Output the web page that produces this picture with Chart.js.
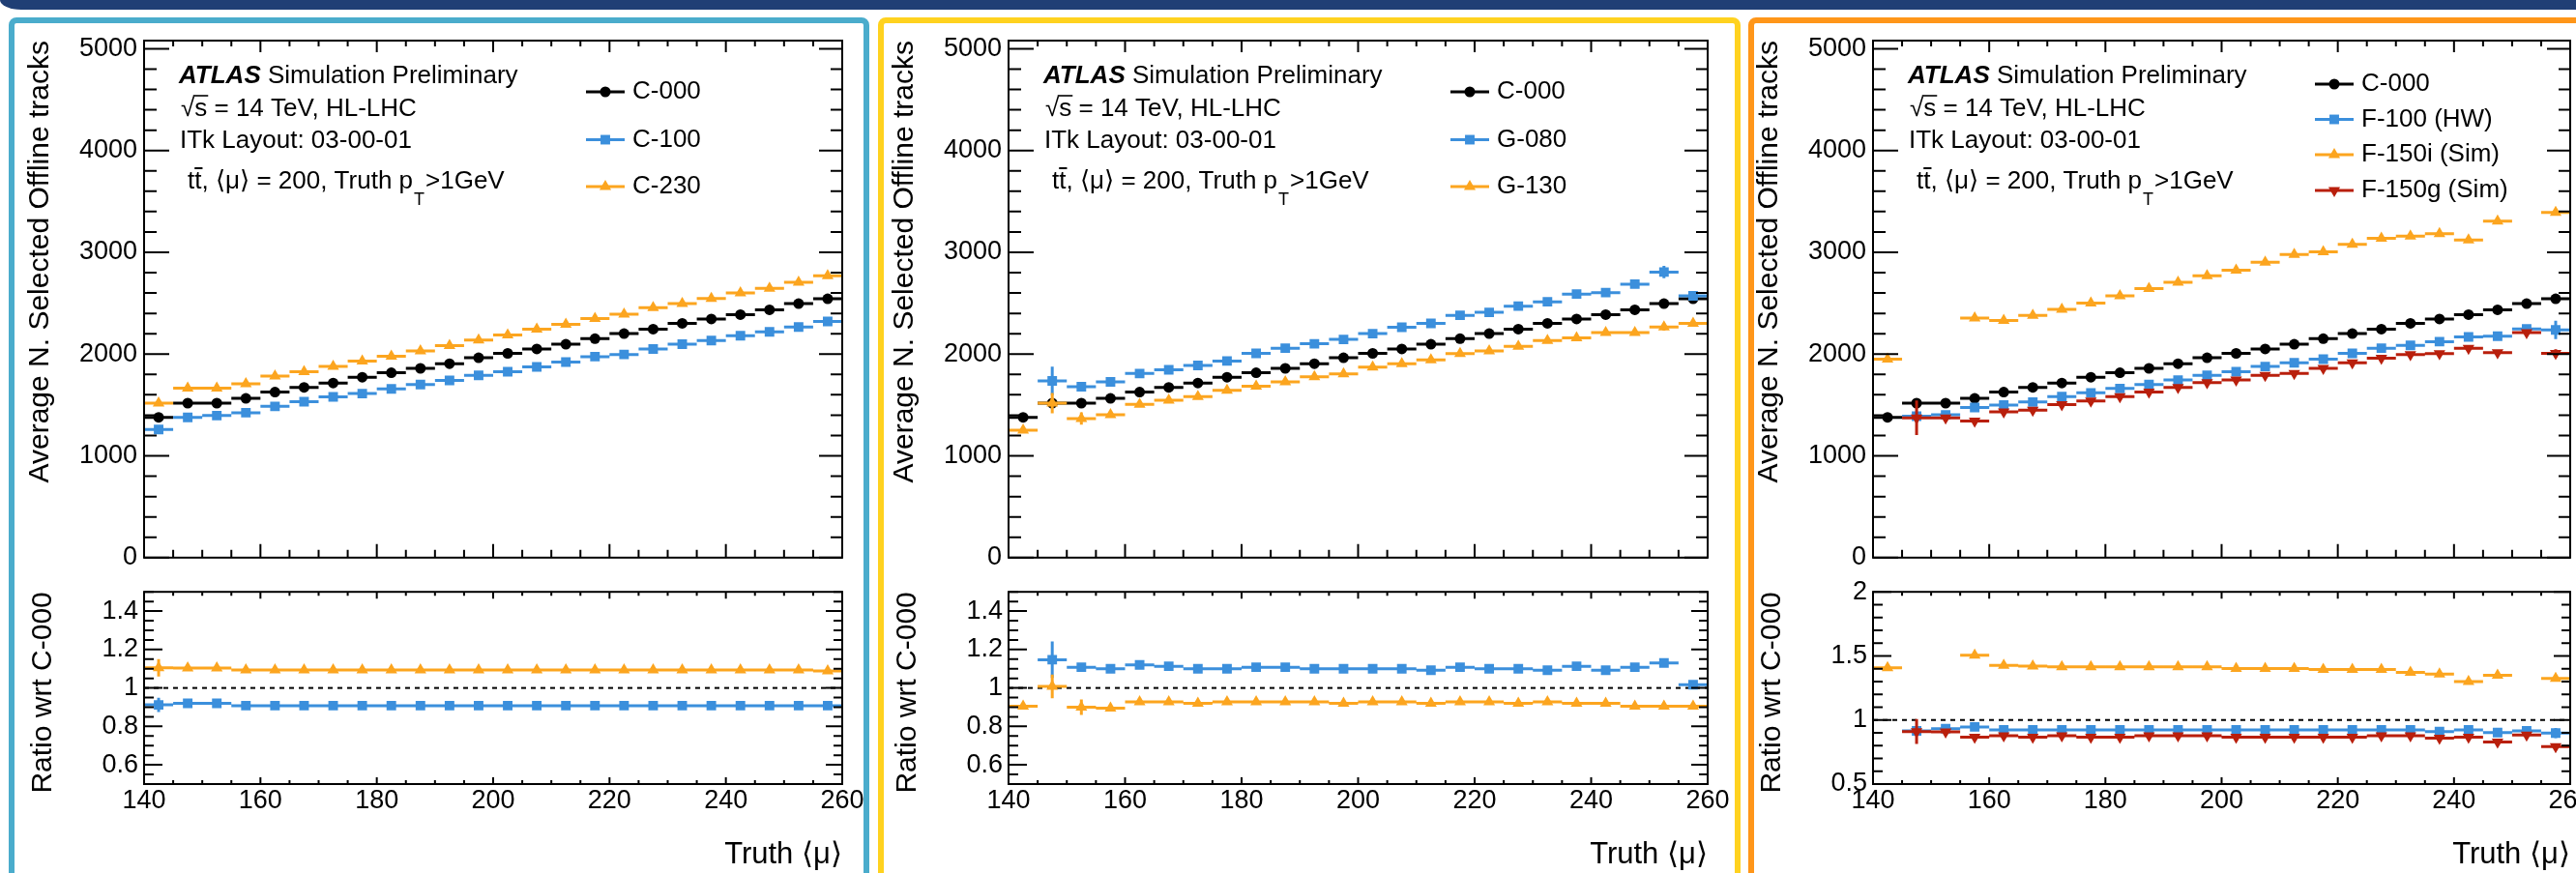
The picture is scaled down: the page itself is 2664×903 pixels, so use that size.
<!DOCTYPE html>
<html><head><meta charset="utf-8">
<script src="https://cdn.jsdelivr.net/npm/chart.js@4/dist/chart.umd.min.js"></script>
<style>
html,body{margin:0;padding:0;background:#fff}
body{width:2664px;height:903px;overflow:hidden;position:relative}
.bar{position:absolute;left:0;top:0;width:2664px;height:10px;background:#203f75;border-bottom-left-radius:22px 10px}
.panel{position:absolute;top:18px;height:920px;border:6px solid;border-radius:8px;box-sizing:border-box}
canvas{position:absolute}
</style></head>
<body>
<div class="bar"></div>
<div class="panel" style="left:9px;width:890px;border-color:#4aaccc"></div>
<div class="panel" style="left:908px;width:892px;border-color:#ffd21f"></div>
<div class="panel" style="left:1808px;width:900px;border-color:#ff9619"></div>
<script>
// ---------------- data ----------------
const BIN_EDGES = [140,145,150,155,160,165,170,175,180,185,190,195,200,205,210,215,220,225,230,235,240,245,250,255,260];
const X_TICKS = [140,160,180,200,220,240,260];
const Y_TICKS_MAIN = [0,1000,2000,3000,4000,5000];
const Y_TICKS_RATIO = [0.6,0.8,1,1.2,1.4];
const Y_TICKS_RATIO_F = [0.5,1,1.5,2];

const C000 = [1378,1518,1518,1565,1626,1673,1716,1773,1817,1860,1906,1964,2007,2050,2097,2151,2201,2245,2302,2345,2388,2435,2496,2543];

const C100 = [1259,1378,1396,1424,1486,1532,1579,1612,1658,1701,1741,1791,1827,1874,1921,1975,1996,2050,2097,2133,2180,2219,2266,2320];
const C230 = [1518,1665,1665,1709,1784,1827,1878,1932,1978,2032,2083,2137,2187,2245,2291,2349,2392,2457,2496,2547,2601,2647,2705,2770];
const C100_R = [0.912,0.92,0.92,0.908,0.908,0.908,0.908,0.908,0.908,0.908,0.908,0.908,0.908,0.908,0.908,0.908,0.908,0.908,0.908,0.908,0.908,0.908,0.908,0.908];
const C100_R_ERR = [0.037,0,0,0,0,0,0,0,0,0,0,0,0,0,0,0,0,0,0,0,0,0,0,0];
const C230_R = [1.105,1.103,1.103,1.093,1.093,1.093,1.093,1.093,1.093,1.093,1.093,1.093,1.093,1.093,1.093,1.093,1.093,1.093,1.093,1.093,1.093,1.093,1.093,1.088];
const C230_R_ERR = [0.045,0,0,0,0,0,0,0,0,0,0,0,0,0,0,0,0,0,0,0,0,0,0,0];

const G080 = [null,1737,1680,1727,1809,1845,1888,1932,2007,2058,2101,2144,2201,2263,2302,2381,2410,2471,2514,2590,2604,2687,2806,2572];
const G080_ERR = [0,140,0,0,0,0,0,0,0,0,0,0,0,0,0,0,0,0,0,0,40,0,60,0];
const G130 = [1252,1518,1367,1403,1507,1547,1583,1644,1683,1727,1777,1806,1871,1906,1942,2004,2032,2076,2133,2158,2212,2212,2266,2302];
const G130_ERR = [0,100,60,0,0,0,0,0,0,0,0,0,0,0,0,0,0,0,0,0,0,0,35,0];
const G080_R = [null,1.147,1.108,1.1,1.12,1.113,1.1,1.1,1.108,1.108,1.1,1.1,1.1,1.1,1.092,1.108,1.1,1.1,1.092,1.113,1.092,1.108,1.13,1.017];
const G080_R_ERR = [0,0.095,0,0,0,0,0,0,0,0,0,0,0,0,0,0,0,0,0,0,0,0,0.02,0];
const G130_R = [0.905,1.008,0.9,0.895,0.928,0.928,0.92,0.928,0.928,0.928,0.928,0.92,0.928,0.928,0.92,0.928,0.928,0.92,0.928,0.92,0.92,0.905,0.905,0.905];
const G130_R_ERR = [0,0.062,0.04,0,0,0,0,0,0,0,0,0,0,0,0,0,0,0,0,0,0,0,0,0];

const F100 = [null,1390,1403,1475,1500,1529,1583,1619,1662,1701,1745,1791,1827,1878,1914,1950,2007,2058,2086,2122,2169,2176,2248,2237];
const F100_ERR = [0,0,0,0,0,0,0,0,0,0,0,0,0,0,0,0,0,0,0,0,0,0,0,90];
const F150I = [1950,null,null,2353,2331,2381,2439,2500,2572,2644,2705,2770,2824,2903,2978,3004,3079,3137,3158,3183,3122,3306,null,3392];
const F150G = [null,1374,1374,1342,1432,1450,1504,1540,1583,1626,1673,1719,1745,1791,1809,1860,1914,1960,1996,2004,2058,2014,2212,2007];
const F150G_ERR = [0,170,0,0,0,0,0,0,0,0,0,0,0,0,0,0,0,0,0,0,0,0,0,40];
const F100_R = [null,0.915,0.932,0.946,0.922,0.922,0.922,0.922,0.922,0.922,0.922,0.922,0.922,0.922,0.922,0.922,0.922,0.922,0.922,0.91,0.922,0.902,0.915,0.898];
const F100_R_ERR = [0,0,0,0,0,0,0,0,0,0,0,0,0,0,0,0,0,0,0,0,0,0,0,0.04];
const F150I_R = [1.407,null,null,1.505,1.427,1.42,1.415,1.415,1.415,1.415,1.415,1.415,1.402,1.402,1.402,1.395,1.395,1.395,1.371,1.359,1.30,1.349,null,1.324];
const F150G_R = [null,0.91,0.907,0.866,0.878,0.866,0.878,0.866,0.866,0.878,0.878,0.878,0.866,0.866,0.866,0.866,0.866,0.878,0.878,0.859,0.866,0.829,0.883,0.793];
const F150G_R_ERR = [0,0.097,0,0,0,0,0,0,0,0,0,0,0,0,0,0,0,0,0,0,0,0,0,0];

// ---------------- styles ----------------
const FAM = "'Liberation Sans', 'DejaVu Sans', Arial, sans-serif";
Chart.defaults.font.family = FAM;
Chart.defaults.color = '#000';
const STY = {
  black:  {color:'#000000', style:'circle',   r:5.5, rot:0},
  blue:   {color:'#3b8fdc', style:'rect',     r:7,   rot:0},
  orange: {color:'#fca51f', style:'triangle', r:7,   rot:0},
  red:    {color:'#b91f0c', style:'triangle', r:7,   rot:180}
};
const font = (size, weight, style) => `${style||'normal'} ${weight||'normal'} ${size}px ${FAM}`;

function histSets(values, errs, sty, prio) {
  const steps = [], bars = [], pts = [];
  values.forEach((v, i) => {
    if (v === null) return;
    const lo = BIN_EDGES[i], hi = BIN_EDGES[i + 1], c = (lo + hi) / 2;
    steps.push({x: lo, y: v}, {x: hi, y: v}, {x: hi, y: null});
    const e = errs ? errs[i] : 0;
    if (e) bars.push({x: c, y: v - e}, {x: c, y: v + e}, {x: c, y: null});
    pts.push({x: c, y: v});
  });
  const common = {type:'line', pointRadius:0, pointHoverRadius:0, borderColor:sty.color, borderWidth:3, spanGaps:false, fill:false};
  return [
    Object.assign({}, common, {data: steps, order: -(prio * 3)}),
    Object.assign({}, common, {data: bars, order: -(prio * 3 + 1)}),
    {type:'line', data: pts, showLine:false, pointStyle:sty.style, pointRadius:sty.r, pointHoverRadius:sty.r,
     pointRotation:sty.rot, pointBackgroundColor:sty.color, pointBorderColor:sty.color, pointBorderWidth:0, order: -(prio * 3 + 2)}
  ];
}

function range(from, to, step, skipEvery) {
  const out = [];
  for (let k = Math.round(from / step); k <= Math.round(to / step); k++) {
    if (skipEvery && k % skipEvery === 0) continue;
    out.push(+(k * step).toFixed(4));
  }
  return out;
}

function frameTicks(o) {
  return {id:'frameTicks', afterDatasetsDraw(chart) {
    const {ctx, chartArea:a, scales:{x, y}} = chart;
    ctx.save();
    ctx.strokeStyle = '#000'; ctx.lineWidth = 2; ctx.setLineDash([]);
    ctx.beginPath();
    const xt = (list, lb, lt) => list.forEach(v => { const p = x.getPixelForValue(v);
      ctx.moveTo(p, a.bottom); ctx.lineTo(p, a.bottom - lb); ctx.moveTo(p, a.top); ctx.lineTo(p, a.top + lt); });
    const yt = (list, ll, lr) => list.forEach(v => { const p = y.getPixelForValue(v);
      ctx.moveTo(a.left, p); ctx.lineTo(a.left + ll, p); ctx.moveTo(a.right, p); ctx.lineTo(a.right - lr, p); });
    xt(o.xMaj, o.xl[0], o.xl[2]); xt(o.xMin, o.xl[1], o.xl[3]);
    yt(o.yMaj, o.yl[0], o.yl[2]); yt(o.yMin, o.yl[1], o.yl[3]);
    ctx.stroke();
    ctx.strokeRect(a.left, a.top, a.right - a.left, a.bottom - a.top);
    ctx.restore();
  }};
}

function annot(legend, legendY) {
  return {id:'annot', afterDraw(chart) {
    const ctx = chart.ctx, L = chart.chartArea.left;
    ctx.save();
    ctx.fillStyle = '#000'; ctx.strokeStyle = '#000'; ctx.textBaseline = 'middle'; ctx.textAlign = 'left';
    // line 1
    let x = L + 36, y = 78.5;
    ctx.font = font(26, 'bold', 'italic'); ctx.fillText('ATLAS', x, y);
    x += ctx.measureText('ATLAS').width;
    ctx.font = font(26); ctx.fillText(' Simulation Preliminary', x, y);
    // line 2
    x = L + 38; y = 113;
    ctx.fillText('\u221A', x, y);
    const rw = ctx.measureText('\u221A').width;
    ctx.fillText('s = 14 TeV, HL-LHC', x + rw, y);
    const sw = ctx.measureText('s').width;
    ctx.lineWidth = 1.6; ctx.beginPath(); ctx.moveTo(x + rw - 1.5, y - 14); ctx.lineTo(x + rw + sw + 1, y - 14); ctx.stroke();
    // line 3
    ctx.fillText('ITk Layout: 03-00-01', L + 37, 145.5);
    // line 4
    x = L + 45; y = 188;
    const tw = ctx.measureText('t').width;
    ctx.fillText('tt', x, y);
    ctx.lineWidth = 2; ctx.beginPath(); ctx.moveTo(x + tw, y - 14); ctx.lineTo(x + 2 * tw + 1, y - 14); ctx.stroke();
    x += 2 * tw;
    const part = ', \u27E8\u03BC\u27E9 = 200, Truth p';
    ctx.fillText(part, x, y); x += ctx.measureText(part).width;
    ctx.font = font(18); ctx.fillText('T', x + 1, y + 19); x += ctx.measureText('T').width + 2;
    ctx.font = font(26); ctx.fillText('>1GeV', x, y);
    // legend
    legend.forEach((e, k) => {
      const ly = legendY[k];
      ctx.strokeStyle = e.sty.color; ctx.lineWidth = 3;
      ctx.beginPath(); ctx.moveTo(L + 457, ly); ctx.lineTo(L + 497, ly); ctx.stroke();
      ctx.fillStyle = e.sty.color;
      Chart.helpers.drawPoint(ctx, {pointStyle:e.sty.style, rotation:e.sty.rot, radius:e.sty.r, borderWidth:0}, L + 477, ly);
      ctx.fillStyle = '#000'; ctx.font = font(26);
      ctx.fillText(e.label, L + 505, ly);
    });
    ctx.restore();
  }};
}

function addCanvas(left, top, w, h) {
  const c = document.createElement('canvas');
  c.width = w; c.height = h;
  c.style.left = left + 'px'; c.style.top = top + 'px';
  c.style.width = w + 'px'; c.style.height = h + 'px';
  document.body.appendChild(c);
  return c;
}

const PANELS = [
  {L:149, R:871,
   series:[{v:C000, e:null, sty:STY.black, label:'C-000'}, {v:C100, e:null, sty:STY.blue, label:'C-100'}, {v:C230, e:null, sty:STY.orange, label:'C-230'}],
   ratio:[{v:C100_R, e:C100_R_ERR, sty:STY.blue}, {v:C230_R, e:C230_R_ERR, sty:STY.orange}],
   rmin:0.5, rmax:1.5, rticks:Y_TICKS_RATIO, rminor:range(0.5, 1.5, 0.05, 4), legendY:[95, 144.5, 193]},
  {L:1043, R:1766,
   series:[{v:C000, e:null, sty:STY.black, label:'C-000'}, {v:G080, e:G080_ERR, sty:STY.blue, label:'G-080'}, {v:G130, e:G130_ERR, sty:STY.orange, label:'G-130'}],
   ratio:[{v:G080_R, e:G080_R_ERR, sty:STY.blue}, {v:G130_R, e:G130_R_ERR, sty:STY.orange}],
   rmin:0.5, rmax:1.5, rticks:Y_TICKS_RATIO, rminor:range(0.5, 1.5, 0.05, 4), legendY:[95, 144.5, 193]},
  {L:1937, R:2658,
   series:[{v:C000, e:null, sty:STY.black, label:'C-000'}, {v:F100, e:F100_ERR, sty:STY.blue, label:'F-100 (HW)'}, {v:F150I, e:null, sty:STY.orange, label:'F-150i (Sim)'}, {v:F150G, e:F150G_ERR, sty:STY.red, label:'F-150g (Sim)'}],
   ratio:[{v:F100_R, e:F100_R_ERR, sty:STY.blue}, {v:F150I_R, e:null, sty:STY.orange}, {v:F150G_R, e:F150G_R_ERR, sty:STY.red}],
   rmin:0.5, rmax:2, rticks:Y_TICKS_RATIO_F, rminor:range(0.5, 2, 0.1, 5), legendY:[87, 123.5, 160, 197]}
];

const Y_W = 140, PAD_R = 30;
const X_MINOR = range(140, 260, 5, 4);

PANELS.forEach(p => {
  const cw = Y_W + (p.R - p.L) + PAD_R;
  // upper
  let ds = [];
  p.series.forEach((s, i) => { ds = ds.concat(histSets(s.v, s.e, s.sty, i)); });
  new Chart(addCanvas(p.L - Y_W, 0, cw, 600), {
    type:'line',
    data:{datasets: ds},
    options:{
      responsive:false, animation:false, devicePixelRatio:1, events:[],
      layout:{padding:{left:0, right:PAD_R, top:42, bottom:0}},
      plugins:{legend:{display:false}, tooltip:{enabled:false}},
      scales:{
        x:{type:'linear', min:140, max:260, ticks:{display:false}, grid:{display:false, drawTicks:false}, border:{display:false},
           afterFit(s){ s.height = 18; }},
        y:{type:'linear', min:0, max:5080,
           afterBuildTicks(s){ s.ticks = Y_TICKS_MAIN.map(v => ({value:v})); },
           ticks:{padding:7, font:{size:27}, color:'#000', callback:v => String(v)},
           grid:{display:false, drawTicks:false}, border:{display:false},
           title:{display:true, text:'Average N. Selected Offline tracks', align:'end', color:'#000', font:{size:30}, padding:{top:15, bottom:0}},
           afterFit(s){ s.width = Y_W; }}
      }
    },
    plugins:[frameTicks({xMaj:X_TICKS, xMin:X_MINOR, yMaj:Y_TICKS_MAIN, yMin:range(0, 5000, 200, 5), xl:[14, 8, 12, 6], yl:[26, 13, 24, 12]}),
             annot(p.series.map(s => ({label:s.label, sty:s.sty})), p.legendY)]
  });
  // ratio
  let rd = [{type:'line', data:[{x:140, y:1}, {x:260, y:1}], borderColor:'#000', borderWidth:2, borderDash:[5, 5], pointRadius:0, order:100}];
  p.ratio.forEach((s, i) => { rd = rd.concat(histSets(s.v, s.e, s.sty, i + 1)); });
  new Chart(addCanvas(p.L - Y_W, 590, cw, 313), {
    type:'line',
    data:{datasets: rd},
    options:{
      responsive:false, animation:false, devicePixelRatio:1, events:[],
      layout:{padding:{left:0, right:PAD_R, top:20, bottom:0}},
      plugins:{legend:{display:false}, tooltip:{enabled:false}},
      scales:{
        x:{type:'linear', min:140, max:260,
           afterBuildTicks(s){ s.ticks = X_TICKS.map(v => ({value:v})); },
           ticks:{padding:1, font:{size:27}, color:'#000', autoSkip:false, maxRotation:0, callback:v => String(v)},
           grid:{display:false, drawTicks:false}, border:{display:false},
           title:{display:true, text:'Truth \u27E8\u03BC\u27E9', align:'end', color:'#000', font:{size:31}, padding:{top:0, bottom:0}},
           afterFit(s){ s.height = 92; }},
        y:{type:'linear', min:p.rmin, max:p.rmax,
           afterBuildTicks(s){ s.ticks = p.rticks.map(v => ({value:v})); },
           ticks:{padding:6, font:{size:27}, color:'#000', callback:v => String(v)},
           grid:{display:false, drawTicks:false}, border:{display:false},
           title:{display:true, text:'Ratio wrt C-000', align:'end', color:'#000', font:{size:30}, padding:{top:18, bottom:0}},
           afterFit(s){ s.width = Y_W; }}
      }
    },
    plugins:[frameTicks({xMaj:X_TICKS, xMin:X_MINOR, yMaj:p.rticks, yMin:p.rminor, xl:[7, 4, 7, 4], yl:[19, 10, 17, 9]})]
  });
});
</script>
</body></html>
